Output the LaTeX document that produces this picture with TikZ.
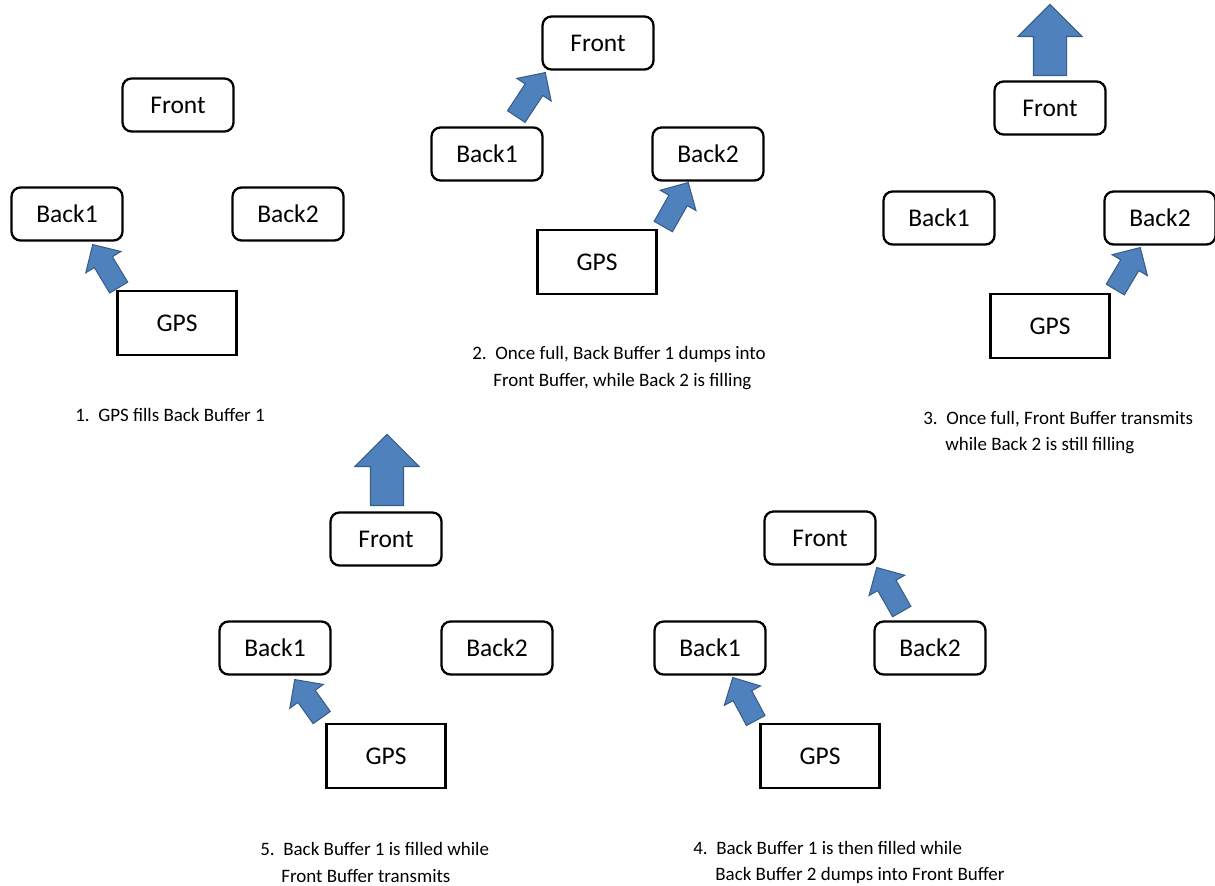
\documentclass[tikz,border=0pt]{standalone}
\usepackage{fontspec}
\setmainfont{Carlito}
\usepackage{tikz}
\usetikzlibrary{calc}
\usetikzlibrary{shapes.arrows}
\definecolor{arrowfill}{HTML}{4F81BD}
\definecolor{arrowedge}{HTML}{385D8A}
\newcommand{\boxfont}{\fontsize{14.5}{17}\selectfont}
\newcommand{\capfont}{\fontsize{10.8}{13}\selectfont}
\tikzset{
    buffer/.style={draw, black, line width=1.3pt, rounded corners=0.18cm, minimum width=2.22cm, minimum height=1.06cm, font=\boxfont},
    gpsbox/.style={draw, black, line width=1.3pt, minimum width=2.38cm, minimum height=1.28cm, font=\boxfont},
    bigarrow/.style={single arrow, draw=arrowedge, fill=arrowfill, line width=0.6pt, inner xsep=0pt, inner ysep=0.2cm, single arrow head extend=0.2cm},
    uparrow/.style={bigarrow, inner ysep=0.32cm, single arrow head extend=0.31cm},
    caption/.style={anchor=west, inner sep=0pt, font=\capfont}
}
% block arrow from tail coordinate to tip coordinate
\newcommand{\blockarrow}[3][]{%
    \path let \p1=(#2), \p2=(#3), \n1={atan2(\y2-\y1,\x2-\x1)}, \n2={veclen(\x2-\x1,\y2-\y1)} in
        node[bigarrow, #1, anchor=tail, rotate=\n1, minimum height=\n2] at (\p1) {};%
}

\begin{document}
\begin{tikzpicture}[x=0.02cm, y=-0.02cm]
    \useasboundingbox (0,0) rectangle (1215,886);
    % Panel 1: GPS fills Back1
    \node[buffer] (front1) at (178,105) {Front};
    \node[buffer] (backA1) at (67,214) {Back1};
    \node[buffer] (backB1) at (288,214) {Back2};
    \node[gpsbox] (gps1) at (177,323) {GPS};
    \coordinate (t1) at (119,288);
    \coordinate (h1) at (93,245);
    \blockarrow{t1}{h1}
    \node[caption] (cap1) at (75,415) {1.\ \ GPS fills Back Buffer 1};
    % Panel 2: Back1 dumps into Front, Back2 filling
    \node[buffer] (front2) at (598,43) {Front};
    \node[buffer] (backA2) at (487,154) {Back1};
    \node[buffer] (backB2) at (708,154) {Back2};
    \node[gpsbox] (gps2) at (597,262) {GPS};
    \coordinate (t2a) at (516,117);
    \coordinate (h2a) at (545,73);
    \blockarrow{t2a}{h2a}
    \coordinate (t2b) at (663,227);
    \coordinate (h2b) at (688,183);
    \blockarrow{t2b}{h2b}
    \node[caption] (cap2a) at (472,354) {2.\ \ Once full, Back Buffer 1 dumps into};
    \node[caption] (cap2b) at (493,382) {Front Buffer,\ while Back 2 is filling};
    % Panel 3: Front transmits, Back2 still filling
    \node[buffer] (front3) at (1050,108) {Front};
    \node[buffer] (backA3) at (939,218) {Back1};
    \node[buffer] (backB3) at (1160,218) {Back2};
    \node[gpsbox] (gps3) at (1050,326) {GPS};
    \coordinate (t3a) at (1050,76);
    \coordinate (h3a) at (1050,5);
    \blockarrow[uparrow]{t3a}{h3a}
    \coordinate (t3b) at (1115,290);
    \coordinate (h3b) at (1140,248);
    \blockarrow{t3b}{h3b}
    \node[caption] (cap3a) at (923,419) {3.\ \ Once full, Front Buffer\ transmits};
    \node[caption] (cap3b) at (945,446) {while Back 2 is still filling};
    % Panel 4: Back1 filled, Back2 dumps into Front
    \node[buffer] (front4) at (820,538) {Front};
    \node[buffer] (backA4) at (710,648) {Back1};
    \node[buffer] (backB4) at (930,648) {Back2};
    \node[gpsbox] (gps4) at (820,756) {GPS};
    \coordinate (t4a) at (756,721);
    \coordinate (h4a) at (733,678);
    \blockarrow{t4a}{h4a}
    \coordinate (t4b) at (902,612);
    \coordinate (h4b) at (877,568);
    \blockarrow{t4b}{h4b}
    \node[caption] (cap4a) at (693,848) {4.\ \ Back Buffer 1 is then filled while};
    \node[caption] (cap4b) at (715,875) {Back Buffer 2 dumps into Front Buffer};
    % Panel 5: Back1 filled, Front transmits
    \node[buffer] (front5) at (386,539) {Front};
    \node[buffer] (backA5) at (275,648) {Back1};
    \node[buffer] (backB5) at (497,648) {Back2};
    \node[gpsbox] (gps5) at (386,756) {GPS};
    \coordinate (t5a) at (387,506);
    \coordinate (h5a) at (387,435);
    \blockarrow[uparrow]{t5a}{h5a}
    \coordinate (t5b) at (322,718);
    \coordinate (h5b) at (295,680);
    \blockarrow{t5b}{h5b}
    \node[caption] (cap5a) at (260,849) {5.\ \ Back Buffer 1 is filled while};
    \node[caption] (cap5b) at (281,876) {Front Buffer transmits};
\end{tikzpicture}
\end{document}
